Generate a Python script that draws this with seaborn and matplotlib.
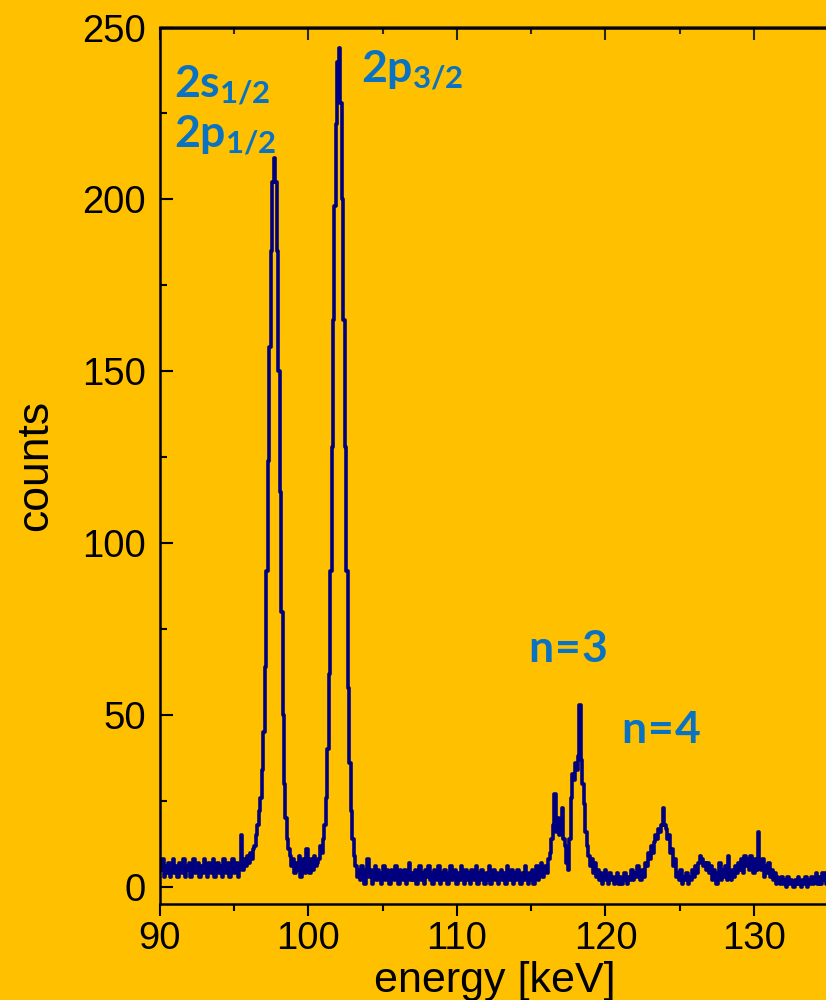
import numpy as np
import pandas as pd
import matplotlib
matplotlib.use("Agg")
import matplotlib.pyplot as plt
from matplotlib.ticker import MultipleLocator
import seaborn as sns

# Spectrum: counts per 0.1 keV channel, starting at 90.0 keV
e_start = 90.0
e_step = 0.1

counts_90_100 = [
    7, 5, 8, 3, 6, 4, 7, 3, 5, 8,            # 90
    4, 6, 3, 7, 5, 4, 8, 3, 6, 5,            # 91
    7, 3, 6, 8, 4, 5, 7, 3, 6, 4,            # 92
    8, 5, 3, 7, 6, 4, 8, 3, 5, 7,            # 93
    4, 6, 3, 8, 5, 4, 7, 3, 6, 8,            # 94
    4, 5, 7, 3, 6, 15, 5, 8, 6, 9,           # 95
    7, 10, 8, 11, 12, 15, 18, 22, 26, 34,    # 96
    45, 64, 92, 124, 157, 185, 205, 212, 205, 185,  # 97
    150, 115, 80, 50, 30, 20, 14, 11, 9, 6,  # 98
    8, 4, 7, 5, 9, 3, 6, 8, 4, 11,           # 99
]

counts_100_110 = [
    6, 4, 8, 5, 9, 6, 7, 8, 12, 10,          # 100
    14, 18, 26, 40, 62, 92, 128, 165, 198, 222,  # 101
    240, 244, 228, 200, 165, 128, 92, 58, 36, 22,  # 102
    14, 9, 6, 3, 5, 2, 6, 4, 1, 5,           # 103
    8, 3, 5, 1, 4, 6, 2, 5, 3, 1,            # 104
    4, 6, 2, 5, 3, 1, 5, 4, 2, 6,            # 105
    3, 1, 5, 4, 2, 5, 1, 3, 7, 2,            # 106
    4, 2, 5, 1, 3, 6, 2, 4, 1, 5,            # 107
    3, 6, 2, 4, 1, 5, 3, 2, 6, 1,            # 108
    4, 2, 5, 3, 1, 4, 6, 2, 3, 5,            # 109
]

counts_110_120 = [
    1, 4, 2, 6, 3, 1, 5, 2, 4, 1,            # 110
    5, 3, 2, 6, 1, 4, 2, 5, 3, 1,            # 111
    4, 2, 6, 1, 3, 5, 2, 4, 1, 3,            # 112
    5, 2, 4, 1, 6, 3, 2, 5, 1, 4,            # 113
    2, 5, 3, 1, 4, 2, 6, 3, 1, 4,            # 114
    2, 5, 1, 3, 6, 2, 4, 7, 3, 5,            # 115
    6, 4, 8, 10, 14, 18, 27, 16, 20, 15,     # 116
    18, 23, 14, 12, 7, 5, 14, 26, 33, 31,    # 117
    36, 34, 38, 53, 37, 30, 24, 16, 12, 9,   # 118
    6, 8, 4, 7, 3, 5, 2, 4, 1, 3,            # 119
]

counts_120_135 = [
    5, 2, 1, 4, 2, 3, 1, 2, 4, 1,            # 120
    3, 1, 2, 4, 2, 1, 3, 2, 5, 2,            # 121
    4, 3, 6, 4, 2, 5, 3, 7, 6, 10,           # 122
    8, 12, 10, 13, 15, 14, 17, 16, 18, 23,   # 123
    18, 17, 14, 15, 10, 11, 6, 8, 3, 4,      # 124
    2, 5, 1, 3, 2, 4, 1, 3, 2, 5,            # 125
    3, 6, 4, 7, 9, 8, 6, 7, 5, 7,            # 126
    4, 6, 2, 5, 3, 1, 4, 7, 2, 5,            # 127
    3, 6, 2, 9, 4, 2, 5, 3, 6, 4,            # 128
    7, 5, 8, 4, 9, 6, 8, 5, 9, 6,            # 129
    4, 8, 5, 16, 7, 5, 8, 3, 6, 4,           # 130
    7, 3, 5, 2, 4, 1, 3, 2, 1, 3,            # 131
    1, 2, 0, 3, 1, 2, 1, 0, 2, 1,            # 132
    3, 1, 0, 2, 1, 3, 0, 2, 1, 3,            # 133
    1, 2, 4, 1, 3, 1, 4, 2, 4, 1,            # 134
]

peak_labels = [r"$2s_{1/2}$", r"$2p_{1/2}$", r"$2p_{3/2}$", r"$n\!=\!3$", r"$n\!=\!4$"]
peak_label_x = [90.95, 90.95, 103.55, 114.75, 121.05]
peak_label_y = [229.5, 215.0, 234.0, 65.5, 42.0]

counts = np.array(counts_90_100 + counts_100_110 + counts_110_120 + counts_120_135)
energy = e_start + e_step * np.arange(len(counts))
df = pd.DataFrame({"energy": energy, "counts": counts})

bg = "#FFC000"
line_color = "#00007F"
label_blue = "#0A72C2"

sns.set_style("ticks")
plt.rcParams["font.family"] = ["Liberation Sans", "DejaVu Sans"]
plt.rcParams["mathtext.fontset"] = "custom"
plt.rcParams["mathtext.rm"] = "Lato:bold"
plt.rcParams["mathtext.it"] = "Lato:bold"
plt.rcParams["mathtext.bf"] = "Lato:bold"

fig = plt.figure(figsize=(8.26, 10), dpi=100, facecolor=bg)
ax = fig.add_axes([160 / 826, 0.0965, 670 / 826, 0.876])
ax.set_facecolor(bg)

sns.lineplot(data=df, x="energy", y="counts", ax=ax, color=line_color,
             linewidth=2.6, drawstyle="steps-mid", estimator=None,
             errorbar=None)

ax.set_xlim(90, 135.12)
ax.set_ylim(-4.8, 250)

ax.xaxis.set_major_locator(MultipleLocator(10))
ax.xaxis.set_minor_locator(MultipleLocator(5))
ax.yaxis.set_major_locator(MultipleLocator(50))
ax.yaxis.set_minor_locator(MultipleLocator(25))

for side in ["left", "bottom", "top", "right"]:
    ax.spines[side].set_visible(True)
    ax.spines[side].set_color("black")
    ax.spines[side].set_linewidth(1.8)

ax.tick_params(axis="x", which="both", direction="out", top=False,
               width=1.5, colors="black", labelsize=27.5, pad=4)
ax.tick_params(axis="x", which="major", length=8.5)
ax.tick_params(axis="x", which="minor", length=5)
ax.tick_params(axis="y", which="both", direction="in", right=False,
               width=1.5, colors="black", labelsize=27.5, pad=10)
ax.tick_params(axis="y", which="major", length=9.5)
ax.tick_params(axis="y", which="minor", length=5)

top = ax.secondary_xaxis("top")
top.xaxis.set_major_locator(MultipleLocator(10))
top.xaxis.set_minor_locator(MultipleLocator(5))
top.tick_params(axis="x", which="both", direction="in", width=1.5,
                labeltop=False)
top.tick_params(axis="x", which="major", length=9.5)
top.tick_params(axis="x", which="minor", length=5)
top.spines["top"].set_linewidth(1.8)

ax.set_xlabel("energy [keV]", fontsize=31, color="black", labelpad=3)
ax.set_ylabel("counts", fontsize=32, color="black", labelpad=19)

for text, x, y in zip(peak_labels, peak_label_x, peak_label_y):
    ax.text(x, y, text, color=label_blue, fontsize=32,
            ha="left", va="baseline")

fig.savefig("out.png", dpi=100, facecolor=bg)
